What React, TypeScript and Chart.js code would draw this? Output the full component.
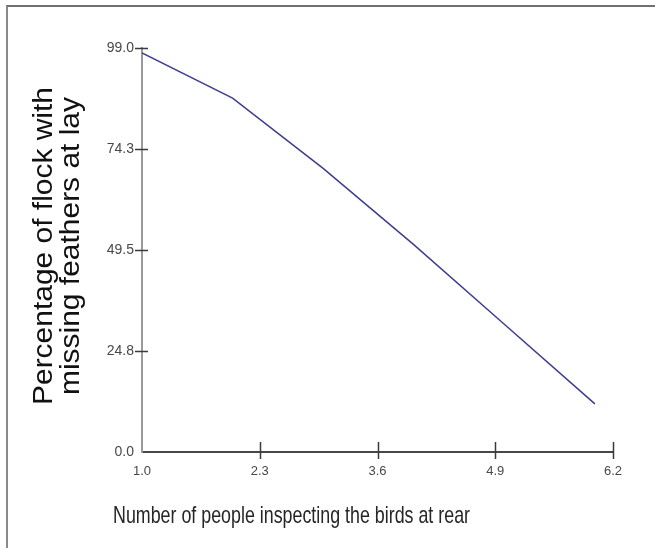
import React, { useEffect, useRef } from "react";
import { Chart, registerables } from "chart.js";

Chart.register(...registerables);

// ---- data ----
const xValues = [1.0, 2.0, 3.0, 4.0, 5.0, 6.0];
const yValues = [97.8, 86.7, 69.5, 50.8, 31.3, 11.8];
const xTickValues = [1.0, 2.3, 3.6, 4.9, 6.2];
const xTickLabels = ["1.0", "2.3", "3.6", "4.9", "6.2"];
const yTickValues = [0, 24.75, 49.5, 74.25, 99];
const yTickLabels = ["0.0", "24.8", "49.5", "74.3", "99.0"];
const xTitle = "Number of people inspecting the birds at rear";
const yTitle = ["Percentage of flock with", "missing feathers at lay"];

const W = 655;
const H = 548;

const decorations = {
  id: "decorations",
  afterDraw(chart: any) {
    const ctx = chart.ctx;
    const area = chart.chartArea;
    const xs = chart.scales.x;
    const ys = chart.scales.y;
    ctx.save();
    ctx.strokeStyle = "#3a3a3a";
    ctx.lineWidth = 1.5;
    ys.ticks.forEach((t: any, i: number) => {
      if (i === 0) return;
      const py = Math.round(ys.getPixelForValue(t.value)) + 0.5;
      ctx.beginPath();
      ctx.moveTo(area.left - 7, py);
      ctx.lineTo(area.left + 6, py);
      ctx.stroke();
    });
    xs.ticks.forEach((t: any, i: number) => {
      if (i === 0) return;
      const px = Math.round(xs.getPixelForValue(t.value)) + 0.5;
      ctx.beginPath();
      ctx.moveTo(px, area.bottom - 10);
      ctx.lineTo(px, area.bottom + 7);
      ctx.stroke();
    });
    ctx.restore();

    // x axis title (condensed look)
    ctx.save();
    ctx.fillStyle = "#262626";
    ctx.font = "24px 'Liberation Sans', Arial, sans-serif";
    ctx.textAlign = "left";
    ctx.textBaseline = "alphabetic";
    const mx = ctx.measureText(xTitle).width;
    ctx.translate(area.left - 29, 523);
    ctx.scale(357 / mx, 1);
    ctx.fillText(xTitle, 0, 0);
    ctx.restore();

    // y axis title (two lines, rotated)
    ctx.save();
    ctx.fillStyle = "#111";
    ctx.font = "27px 'Liberation Sans', Arial, sans-serif";
    ctx.textAlign = "center";
    ctx.textBaseline = "middle";
    const my = ctx.measureText(yTitle[0]).width;
    const sx = 318 / my;
    const cy = (area.top + area.bottom) / 2 - 4;
    yTitle.forEach((line, i) => {
      ctx.save();
      ctx.translate(45 + i * 27, cy);
      ctx.rotate(-Math.PI / 2);
      ctx.scale(sx, 1);
      ctx.fillText(line, 0, 0);
      ctx.restore();
    });
    ctx.restore();
  },
};

export default function App() {
  const ref = useRef<HTMLCanvasElement | null>(null);

  useEffect(() => {
    if (!ref.current) return;
    const chart = new Chart(ref.current, {
      type: "line",
      data: {
        datasets: [
          {
            data: xValues.map((x, i) => ({ x, y: yValues[i] })),
            borderColor: "#3d3d8f",
            borderWidth: 1.5,
            pointRadius: 0,
            fill: false,
            tension: 0,
          },
        ],
      },
      options: {
        animation: false,
        responsive: false,
        maintainAspectRatio: false,
        layout: { padding: { left: 0, right: 42, top: 48, bottom: 0 } },
        plugins: {
          legend: { display: false },
          tooltip: { enabled: false },
        },
        scales: {
          x: {
            type: "linear",
            min: 1.0,
            max: 6.2,
            afterBuildTicks: (scale: any) => {
              scale.ticks = xTickValues.map((v) => ({ value: v }));
            },
            afterFit: (scale: any) => {
              scale.height = 96;
            },
            grid: { display: false, drawTicks: false },
            border: { display: true, color: "#474747", width: 2 },
            ticks: {
              padding: 12,
              color: "#484848",
              font: { family: "'Liberation Sans', Arial, sans-serif", size: 13 },
              callback: (_v: any, i: number) => xTickLabels[i],
            },
          },
          y: {
            type: "linear",
            min: 0,
            max: 99,
            afterBuildTicks: (scale: any) => {
              scale.ticks = yTickValues.map((v) => ({ value: v }));
            },
            afterFit: (scale: any) => {
              scale.width = 142;
            },
            grid: { display: false, drawTicks: false },
            border: { display: true, color: "#9a9a9a", width: 2 },
            ticks: {
              padding: 8,
              color: "#484848",
              font: { family: "'Liberation Sans', Arial, sans-serif", size: 14 },
              callback: (_v: any, i: number) => yTickLabels[i],
            },
          },
        },
      },
      plugins: [decorations],
    });
    return () => chart.destroy();
  }, []);

  return (
    <div style={{ position: "fixed", left: 0, top: 0, width: W, height: H, background: "#fff" }}>
      <div
        style={{
          position: "absolute",
          left: 6,
          top: 5,
          right: 0,
          bottom: 0,
          borderTop: "2px solid #707070",
          borderLeft: "2px solid #8a8a8a",
        }}
      />
      <canvas ref={ref} width={W} height={H} style={{ position: "absolute", left: 0, top: 0, width: W, height: H }} />
    </div>
  );
}
